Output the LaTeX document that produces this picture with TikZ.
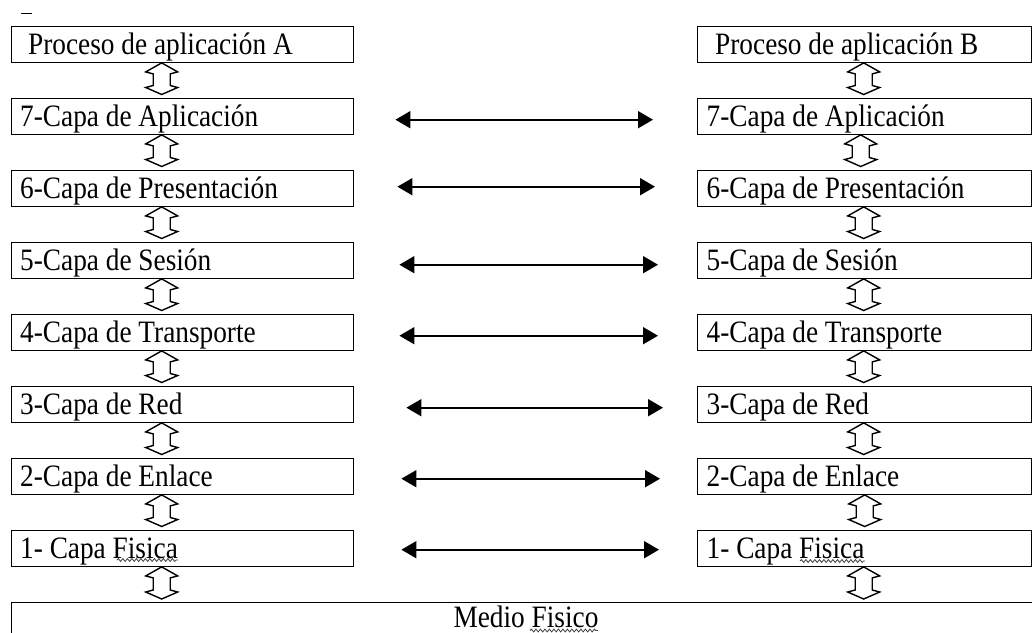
\documentclass[tikz,border=0pt]{standalone}
\usepackage{fontspec}
\usepackage{graphicx}
\setmainfont{Liberation Serif}
\usetikzlibrary{arrows.meta,calc,decorations.pathmorphing}

% slightly tall lettering, as in the layer labels
\newcommand{\tall}[1]{\scalebox{1}[1.14]{#1}}

% hollow up/down block arrow between two stacked layers
% #1 upper node, #2 lower node, #3 horizontal offset from the upper node's centre
\newcommand{\layerlink}[3]{%
  \draw[hollow] let \p1=([xshift=#3]#1.south), \p2=([xshift=#3,yshift=3pt]#2.north) in
    (\x1,\y1) -- (\x1+16pt,\y1-9pt) -- (\x1+8.5pt,\y1-11pt) -- (\x1+8.5pt,\y2+9pt)
    -- (\x1+16pt,\y2+7pt) -- (\x1,\y2) -- (\x1-16pt,\y2+7pt) -- (\x1-8.5pt,\y2+9pt)
    -- (\x1-8.5pt,\y1-11pt) -- (\x1-16pt,\y1-9pt) -- cycle;}

\tikzset{
  layer/.style={draw, line width=1.4pt, minimum width=342pt, minimum height=36pt,
                inner sep=0pt, anchor=north west},
  rlayer/.style={layer, minimum width=334pt},
  lbl/.style={anchor=base west, inner sep=0pt, font=\fontsize{27.3}{30}\selectfont},
  peer/.style={line width=1.8pt,
               {Triangle[length=15pt,width=17pt]}-{Triangle[length=15pt,width=17pt]}},
  hollow/.style={draw, line width=1.4pt, fill=white, line join=miter},
  squiggle/.style={draw=black!75, line width=0.8pt, decorate,
                   decoration={snake, amplitude=1.4pt, segment length=4.5pt}},
}

\begin{document}
\begin{tikzpicture}[x=1pt,y=1pt]
\useasboundingbox (0,0) rectangle (1032,-632);
\clip (0,0) rectangle (1032,-632);
\fill[white] (0,0) rectangle (1032,-632);

% stray mark at the top left
\draw[line width=1.8pt] (21,-13.5) -- (32,-13.5);

% ---- host A ----
\node[layer] (AP) at (11,-25.5)  {};
\node[layer] (A7) at (11,-97.5)  {};
\node[layer] (A6) at (11,-169.5) {};
\node[layer] (A5) at (11,-241.5) {};
\node[layer] (A4) at (11,-313.5) {};
\node[layer] (A3) at (11,-385.5) {};
\node[layer] (A2) at (11,-457.5) {};
\node[layer] (A1) at (11,-529.5) {};

\node[lbl] (tAP) at ([xshift=17pt,yshift=8.5pt]AP.south west) {\tall{Proceso de aplicación A}};
\node[lbl] (tA7) at ([xshift=9pt,yshift=8.5pt]A7.south west) {\tall{7-Capa de Aplicación}};
\node[lbl] (tA6) at ([xshift=9pt,yshift=8.5pt]A6.south west) {\tall{6-Capa de Presentación}};
\node[lbl] (tA5) at ([xshift=9pt,yshift=8.5pt]A5.south west) {\tall{5-Capa de Sesión}};
\node[lbl] (tA4) at ([xshift=9pt,yshift=8.5pt]A4.south west) {\tall{4-Capa de Transporte}};
\node[lbl] (tA3) at ([xshift=9pt,yshift=8.5pt]A3.south west) {\tall{3-Capa de Red}};
\node[lbl] (tA2) at ([xshift=9pt,yshift=8.5pt]A2.south west) {\tall{2-Capa de Enlace}};
\node[lbl] (tA1) at ([xshift=9pt,yshift=8.5pt]A1.south west) {\tall{1- Capa Fisica}};

% ---- host B ----
\node[rlayer] (BP) at (697,-25.5)  {};
\node[rlayer] (B7) at (697,-97.5)  {};
\node[rlayer] (B6) at (697,-169.5) {};
\node[rlayer] (B5) at (697,-241.5) {};
\node[rlayer] (B4) at (697,-313.5) {};
\node[rlayer] (B3) at (697,-385.5) {};
\node[rlayer] (B2) at (697,-457.5) {};
\node[rlayer] (B1) at (697,-529.5) {};

\node[lbl] (tBP) at ([xshift=18pt,yshift=8.5pt]BP.south west) {\tall{Proceso de aplicación B}};
\node[lbl] (tB7) at ([xshift=9.5pt,yshift=8.5pt]B7.south west) {\tall{7-Capa de Aplicación}};
\node[lbl] (tB6) at ([xshift=9.5pt,yshift=8.5pt]B6.south west) {\tall{6-Capa de Presentación}};
\node[lbl] (tB5) at ([xshift=9.5pt,yshift=8.5pt]B5.south west) {\tall{5-Capa de Sesión}};
\node[lbl] (tB4) at ([xshift=9.5pt,yshift=8.5pt]B4.south west) {\tall{4-Capa de Transporte}};
\node[lbl] (tB3) at ([xshift=9.5pt,yshift=8.5pt]B3.south west) {\tall{3-Capa de Red}};
\node[lbl] (tB2) at ([xshift=9.5pt,yshift=8.5pt]B2.south west) {\tall{2-Capa de Enlace}};
\node[lbl] (tB1) at ([xshift=9.5pt,yshift=8.5pt]B1.south west) {\tall{1- Capa Fisica}};

% ---- shared physical medium ----
\node[draw, line width=1.4pt, anchor=north west, minimum width=1060pt,
      minimum height=60pt, inner sep=0pt] (M) at (11,-602) {};
\node[lbl, anchor=base] (tM) at (526,-627) {\tall{Medio Fisico}};

% spelling marks under "Fisica"/"Fisico"
\draw[squiggle] (117,-560) -- (178,-560);
\draw[squiggle] (800,-561) -- (865,-561);
\draw[squiggle] (530,-630.5) -- (598,-630.5);

% ---- vertical service links ----
\layerlink{AP}{A7}{-21pt}
\layerlink{A7}{A6}{-21pt}
\layerlink{A6}{A5}{-21pt}
\layerlink{A5}{A4}{-21pt}
\layerlink{A4}{A3}{-21pt}
\layerlink{A3}{A2}{-21pt}
\layerlink{A2}{A1}{-21pt}
\layerlink{A1}{M}{-21pt}

\layerlink{BP}{B7}{-1pt}
\layerlink{B7}{B6}{-4pt}
\layerlink{B6}{B5}{-1pt}
\layerlink{B5}{B4}{-1pt}
\layerlink{B4}{B3}{-1pt}
\layerlink{B3}{B2}{-1pt}
\layerlink{B2}{B1}{0pt}
\layerlink{B1}{M}{-1pt}

% ---- peer-to-peer protocol links ----
\draw[peer] ([xshift=41pt,yshift=-3.5pt]A7.east) -- ([xshift=-44pt,yshift=-3.5pt]B7.west);
\draw[peer] ([xshift=43pt,yshift=1.5pt]A6.east)  -- ([xshift=-42pt,yshift=1.5pt]B6.west);
\draw[peer] ([xshift=45pt,yshift=-4.5pt]A5.east) -- ([xshift=-39pt,yshift=-4.5pt]B5.west);
\draw[peer] ([xshift=45pt,yshift=-3.5pt]A4.east) -- ([xshift=-39pt,yshift=-3.5pt]B4.west);
\draw[peer] ([xshift=52pt,yshift=-3.5pt]A3.east) -- ([xshift=-34pt,yshift=-3.5pt]B3.west);
\draw[peer] ([xshift=47pt,yshift=-2.5pt]A2.east) -- ([xshift=-37pt,yshift=-2.5pt]B2.west);
\draw[peer] ([xshift=47pt,yshift=-1.5pt]A1.east) -- ([xshift=-38pt,yshift=-1.5pt]B1.west);
\end{tikzpicture}
\end{document}
